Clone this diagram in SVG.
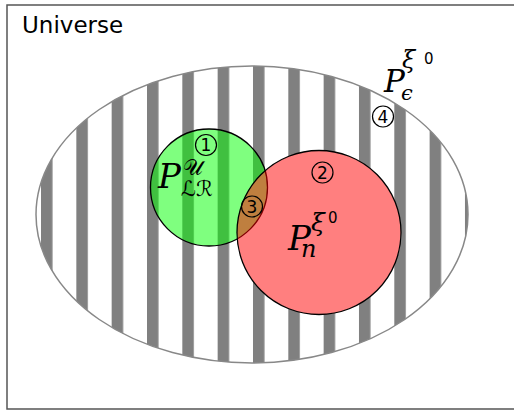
<svg xmlns="http://www.w3.org/2000/svg" width="514" height="414" viewBox="0 0 514 414">
<style>
.num{font-family:"DejaVu Sans",sans-serif;font-size:17px;text-anchor:middle;fill:#000}
.ring{fill:none;stroke:#000;stroke-width:1.2}
.mi{font-family:"DejaVu Serif","Liberation Serif",serif;font-style:italic;fill:#000}
.cal{font-family:"DejaVu Serif","DejaVu Sans",serif;font-style:normal;fill:#000}
.up{font-family:"DejaVu Sans",sans-serif;fill:#000}
.stripe{fill:#808080}
</style>
<defs>
<clipPath id="ellClip"><ellipse cx="252" cy="214.5" rx="216" ry="148.5"/></clipPath>
<pattern id="stripes" x="41" y="0" width="35.33" height="414" patternUnits="userSpaceOnUse">
<rect x="0" y="0" width="11.5" height="414" class="stripe"/>
</pattern>
</defs>
<rect width="514" height="414" fill="#fff"/>
<g id="universe">
<rect x="7" y="5" width="515" height="404" fill="none" stroke="#555" stroke-width="1.5"/>
<text x="22" y="33" class="up" font-size="23">Universe</text>
</g>
<g id="set-eps">
<ellipse cx="252" cy="214.5" rx="216" ry="148.5" fill="#fff"/>
<rect x="0" y="0" width="514" height="414" fill="url(#stripes)" clip-path="url(#ellClip)"/>
<ellipse cx="252" cy="214.5" rx="216" ry="148.5" fill="none" stroke="#888" stroke-width="1.5"/>
</g>
<circle cx="319" cy="232.5" r="82" fill="#fff"/>
<g id="set-lr">
<circle cx="209" cy="187.5" r="58.5" fill="#00ff00" fill-opacity="0.5" stroke="#000" stroke-width="1.3"/>
</g>
<g id="set-n">
<circle cx="319" cy="232.5" r="82" fill="#ff0000" fill-opacity="0.5" stroke="#000" stroke-width="1.3"/>
</g>
<g id="labels">
<circle cx="206" cy="145" r="10.5" class="ring"/><text x="206" y="151" class="num">1</text>
<circle cx="322.5" cy="172.5" r="10.5" class="ring"/><text x="322.5" y="178.5" class="num">2</text>
<circle cx="252" cy="206.5" r="10.5" class="ring"/><text x="252" y="212.5" class="num">3</text>
<circle cx="383" cy="116.5" r="10.5" class="ring"/><text x="383" y="122.5" class="num">4</text>
<text x="158" y="188" class="mi" font-size="34">P</text>
<text x="183" y="175" class="cal" font-size="22">𝒰</text>
<text x="181" y="196" class="cal" font-size="21">ℒℛ</text>
<text x="384" y="92" class="mi" font-size="31">P</text>
<text x="402" y="68" class="mi" font-size="24">ξ</text>
<text x="424" y="64" class="up" font-size="15">0</text>
<text x="401" y="100" class="mi" font-size="21">ϵ</text>
<text x="288" y="250" class="mi" font-size="34">P</text>
<text x="311" y="231" class="mi" font-size="25">ξ</text>
<text x="328" y="223" class="up" font-size="15">0</text>
<text x="301" y="257" class="mi" font-size="24">n</text>
</g>
</svg>
